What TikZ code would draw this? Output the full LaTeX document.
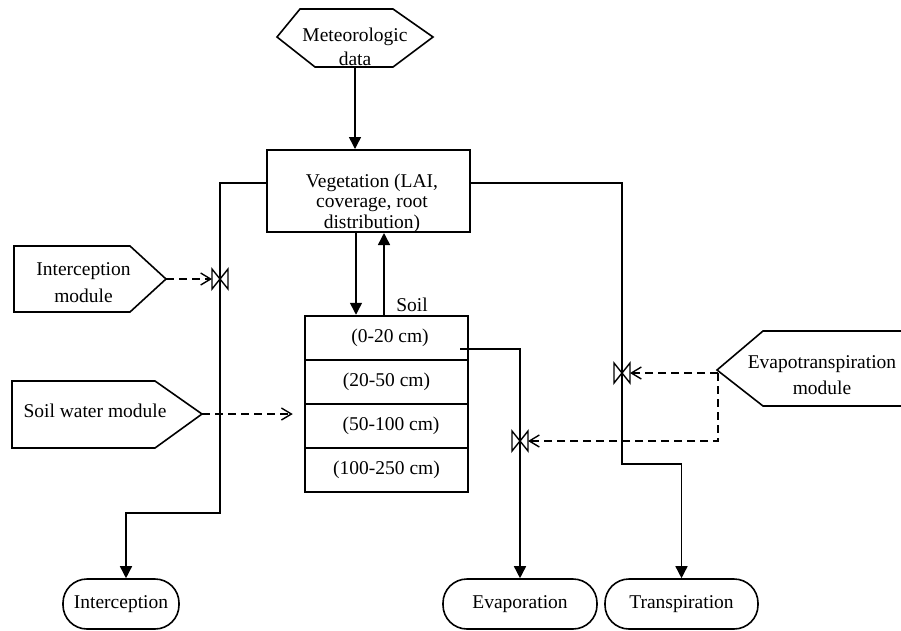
\documentclass[tikz,border=0pt]{standalone}
\usepackage{fontspec}
\setmainfont{Liberation Serif}
\usetikzlibrary{arrows.meta}
\begin{document}
\begin{tikzpicture}[x=1pt,y=-1pt,
  every node/.style={font=\fontsize{19.5}{23}\selectfont, inner sep=0pt},
  shp/.style={draw, line width=1.6pt, line join=miter},
  box/.style={draw, line width=2pt},
  soilrow/.style={draw, line width=2.5pt, minimum width=163pt, minimum height=44pt, text height=13.3pt, text depth=4.2pt},
  conn/.style={line width=1.5pt},
  arr/.style={conn, -{Triangle[length=12pt,width=12pt]}},
  darr/.style={line width=1.4pt, dash pattern=on 8pt off 5pt, -{Straight Barb[length=10pt,width=12pt]}},
  term/.style={draw, line width=1.6pt, rounded corners=24pt, minimum height=50pt, text height=13.3pt, text depth=4.2pt},
  valve/.pic={\draw[line width=1.4pt] (-8,-10) -- (-8,10) -- (8,-10) -- (8,10) -- cycle;}
]
\useasboundingbox (0,0) rectangle (901,630);

% Meteorologic data
\draw[shp] (277,37) -- (300,9) -- (393,9) -- (433,37) -- (393,67) -- (315,67) -- cycle;
\node[align=center, font=\fontsize{19.5}{24}\selectfont] (met) at (355,46.5) {Meteorologic\\data};
\coordinate (metB) at (355,67);

% Vegetation
\node[box, minimum width=203pt, minimum height=82pt] (veg) at (368.5,191) {};
\node[align=center, font=\fontsize{19.5}{20.5}\selectfont] (vegt) at (372,203) {Vegetation (LAI,\\coverage, root\\distribution)};

% Soil
\node[anchor=base] (soillbl) at (412,311) {Soil};
\node[soilrow] (s1) at (386.5,338) {\hspace*{7pt}(0-20 cm)};
\node[soilrow] (s2) at (386.5,382) {(20-50 cm)};
\node[soilrow] (s3) at (386.5,426) {\hspace*{9pt}(50-100 cm)};
\node[soilrow] (s4) at (386.5,470) {(100-250 cm)};

% Modules
\draw[shp] (14,246) -- (130,246) -- (166,279) -- (130,312) -- (14,312) -- cycle;
\node[align=center, font=\fontsize{19.5}{27}\selectfont] (imod) at (83.5,283) {Interception\\module};
\coordinate (imodT) at (166,279);

\draw[shp] (12,381) -- (155,381) -- (202,414) -- (155,448) -- (12,448) -- cycle;
\node[anchor=base] (swm) at (95,417) {Soil water module};
\coordinate (swmT) at (202,414);

\draw[shp] (906,331) -- (763,331) -- (717,370) -- (763,406) -- (906,406);
\node[align=center, font=\fontsize{19.5}{26}\selectfont] (emod) at (822,375.5) {Evapotranspiration\\module};
\coordinate (eJ) at (718,373);

% Terminals
\node[term, minimum width=116pt] (tInt) at (121,604) {Interception};
\node[term, minimum width=154pt] (tEva) at (520,604) {Evaporation};
\node[term, minimum width=153pt] (tTra) at (681.5,604) {Transpiration};

% Valves
\coordinate (v1) at (220,279);
\coordinate (v2) at (622,373);
\coordinate (v3) at (520,441);
\pic at (v1) {valve};
\pic at (v2) {valve};
\pic at (v3) {valve};

% Solid connectors
\draw[arr] (metB) -- (metB |- veg.north);
\coordinate (dx) at (356,0);
\coordinate (ux) at (384,0);
\draw[arr] (veg.south -| dx) -- (s1.north -| dx);
\draw[arr] (s1.north -| ux) -- (veg.south -| ux);

\coordinate (lA) at (220,183);
\coordinate (lB) at (220,513);
\coordinate (lC) at (126,513);
\draw[arr] (veg.west |- lA) -- (lA) -- (lB) -- (lC) -- (lC |- tInt.north);

\coordinate (rA) at (622,183);
\coordinate (rB) at (622,464);
\coordinate (rC) at (681.5,464);
\draw[arr] (veg.east |- rA) -- (rA) -- (rB) -- (rC) -- (rC |- tTra.north);

\coordinate (eA) at (460,349);
\coordinate (eB) at (520,349);
\draw[arr] (eA) -- (eB) -- (eB |- tEva.north);

% Dashed connectors
\draw[darr] (imodT) -- ([xshift=-8pt]v1);
\draw[darr, shorten >=11pt] (swmT) -- (swmT -| s3.west);
\coordinate (eK) at (718,441);
\draw[darr] (eJ) -- ([xshift=8pt]v2);
\draw[darr] (eJ) -- (eK) -- ([xshift=8pt]v3);
\end{tikzpicture}
\end{document}
